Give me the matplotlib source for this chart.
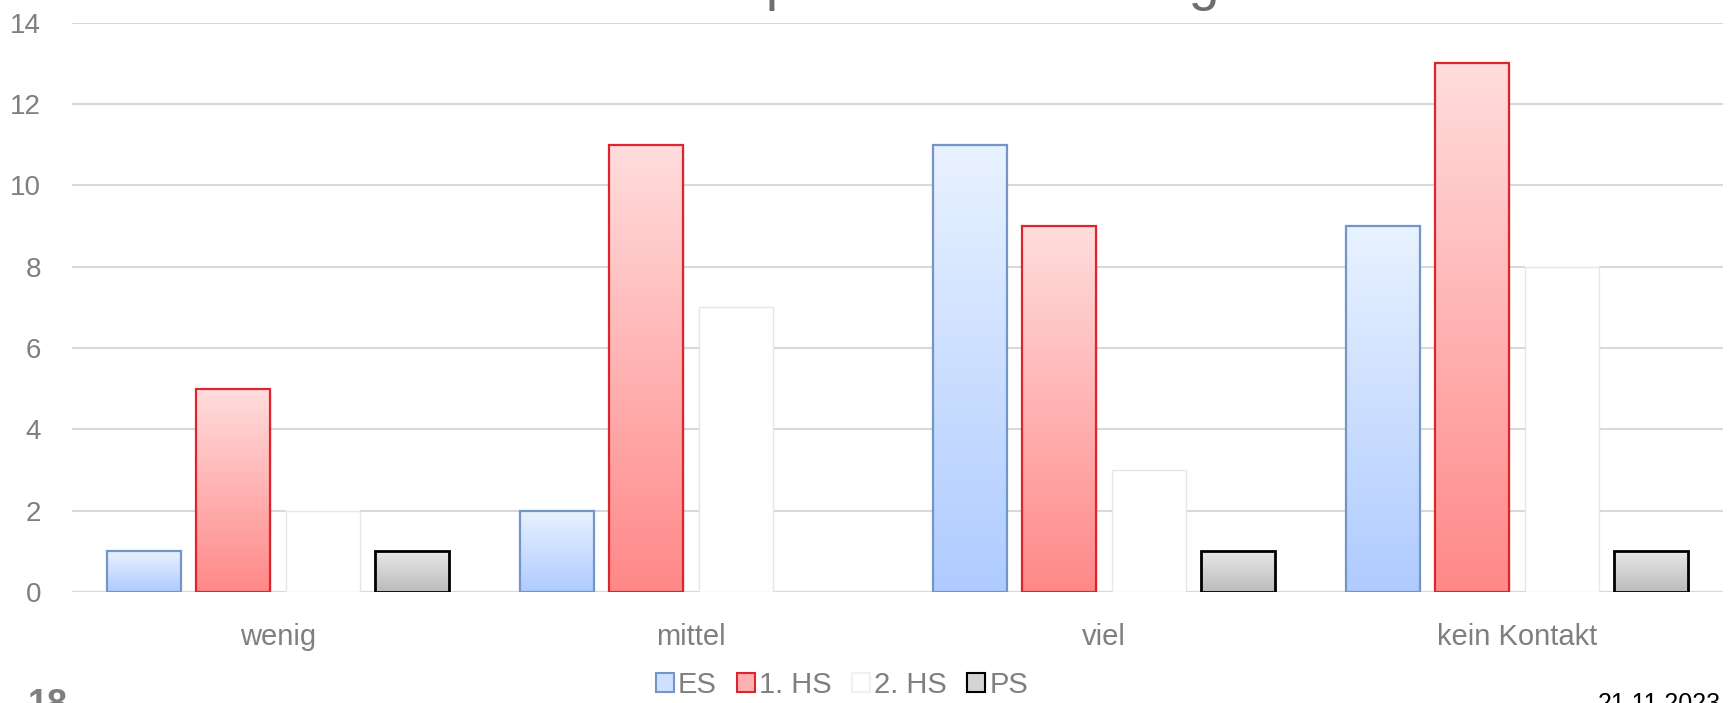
import numpy as np
import matplotlib
matplotlib.use("Agg")
import matplotlib.pyplot as plt
from matplotlib.patches import Patch
from matplotlib.colors import LinearSegmentedColormap

categories = ["wenig", "mittel", "viel", "kein Kontakt"]
series_names = ["ES", "1. HS", "2. HS", "PS"]
es_values = [1, 2, 11, 9]
hs1_values = [5, 11, 9, 13]
hs2_values = [2, 7, 3, 8]
ps_values = [1, 0, 1, 1]
y_ticks = [0, 2, 4, 6, 8, 10, 12, 14]
title_text = "Kontakt pro Schulberatung"
page_number = "18"
date_text = "21.11.2023"

series_values = [es_values, hs1_values, hs2_values, ps_values]
# (top colour, bottom colour, edge colour, edge width)
styles = [
    ("#E9F2FF", "#AFCBFF", "#7396C6", 1.6),
    ("#FFDDDD", "#FF8888", "#DD2530", 1.6),
    ("#FFFFFF", "#FFFFFF", "#E6E6E6", 1.0),
    ("#E8E8E8", "#BBBBBB", "#000000", 2.0),
]

plt.rcParams['font.family'] = ['Liberation Sans', 'DejaVu Sans']
W, H = 1728, 703
fig = plt.figure(figsize=(W / 100, H / 100), dpi=100)
ax = fig.add_axes([71.5 / W, (H - 592) / H, 1652 / W, (592 - 22.6) / H])

step = 89.5 / 413
bw = 74 / 413
x = np.arange(len(categories))
grad = np.linspace(0, 1, 256).reshape(-1, 1)

for i, (vals, (ctop, cbot, cedge, lw)) in enumerate(zip(series_values, styles)):
    off = (i - 1.5) * step
    cmap = LinearSegmentedColormap.from_list(f"g{i}", [ctop, cbot])
    for xi, v in zip(x, vals):
        if v <= 0:
            continue
        x0 = xi + off - bw / 2
        ax.bar(xi + off + 0.004, v, width=bw, bottom=-0.05, color="#000000",
               alpha=0.06, linewidth=0, zorder=2)
        ax.imshow(grad, extent=[x0, x0 + bw, 0, v], aspect="auto", cmap=cmap,
                  origin="upper", zorder=3, interpolation="bilinear")
        ax.bar(xi + off, v, width=bw, facecolor="none", edgecolor=cedge,
               linewidth=lw, zorder=4)

ax.set_xlim(-0.5, len(categories) - 0.5)
ax.set_ylim(0, 14)
ax.set_yticks(y_ticks)
ax.set_xticks(x)
ax.set_xticklabels(categories)
ax.tick_params(axis="both", length=0, labelsize=20, labelcolor="#7F7F7F")
ax.tick_params(axis="x", labelsize=21, pad=22)
ax.tick_params(axis="y", pad=22)
ax.yaxis.grid(True, color="#D9D9D9", linewidth=1.5, zorder=0)
ax.set_axisbelow(True)
for s in ax.spines.values():
    s.set_visible(False)
ax.axhline(0, color="#D9D9D9", linewidth=1.5, zorder=1)

legend_faces = ["#CFE0FF", "#FFB0B0", "#FFFFFF", "#D4D4D4"]
legend_edges = ["#7396C6", "#DD2530", "#F0F0F0", "#000000"]
handles = [Patch(facecolor=f, edgecolor=e, linewidth=1.5, label=n)
           for n, f, e in zip(series_names, legend_faces, legend_edges)]
fig.legend(handles=handles, loc="center", bbox_to_anchor=(842 / W, 1 - 685 / H),
           ncol=4, frameon=False, fontsize=21, handlelength=0.6,
           handleheight=0.6, handletextpad=0.15, columnspacing=0.7,
           labelcolor="#7F7F7F", borderpad=0.1)

fig.text(562 / W, 1 + 0.5 / H, title_text, fontsize=40, color="#6E6E6E",
         ha="left", va="baseline")
fig.text(48 / W, 1 - 688 / H, page_number, fontsize=26, fontweight="bold",
         color="#7F7F7F", ha="center", va="top")
fig.text(1598 / W, 1 - 692 / H, date_text, fontsize=18, color="#000000",
         ha="left", va="top")

fig.savefig("out.png", dpi=100)
